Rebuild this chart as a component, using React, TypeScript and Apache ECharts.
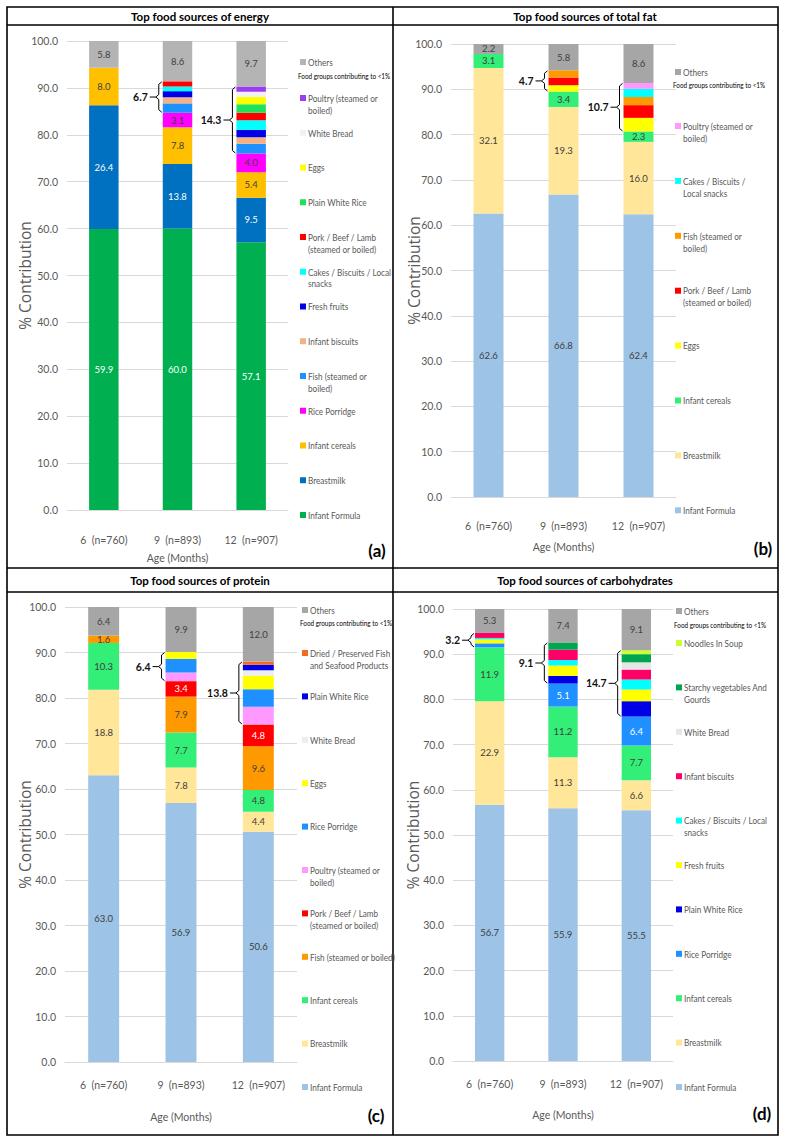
import React, { useEffect, useRef } from "react";
import * as echarts from "echarts";

const FONT = "Lato, 'Liberation Sans', sans-serif";
const YTITLE_FONT = "'Open Sans', sans-serif";

// ---------- categories ----------
const ageLabels = ["6  (n=760)", "9  (n=893)", "12  (n=907)"];

// ---------- (a) energy, % contribution (bottom to top) ----------
const energyInfantFormula = [59.9, 60.0, 57.1];
const energyBreastmilk = [26.4, 13.8, 9.5];
const energyInfantCereals = [8.0, 7.8, 5.4];
const energyRicePorridge = [0, 3.1, 4.0];
const energyFish = [0, 2.0, 2.1];
const energyInfantBiscuits = [0, 1.3, 1.4];
const energyFreshFruits = [0, 1.3, 1.6];
const energyCakes = [0, 1.0, 2.0];
const energyPork = [0, 1.1, 1.6];
const energyPlainRice = [0, 0, 1.8];
const energyEggs = [0, 0, 1.6];
const energyWhiteBread = [0, 0, 1.1];
const energyPoultry = [0, 0, 1.1];
const energyOthers = [5.8, 8.6, 9.7];

// ---------- (b) total fat ----------
const fatInfantFormula = [62.6, 66.8, 62.4];
const fatBreastmilk = [32.1, 19.3, 16.0];
const fatInfantCereals = [3.1, 3.4, 2.3];
const fatEggs = [0, 1.4, 3.0];
const fatPork = [0, 1.7, 2.8];
const fatFish = [0, 1.6, 1.8];
const fatCakes = [0, 0, 1.8];
const fatPoultry = [0, 0, 1.3];
const fatOthers = [2.2, 5.8, 8.6];

// ---------- (c) protein ----------
const proteinInfantFormula = [63.0, 56.9, 50.6];
const proteinBreastmilk = [18.8, 7.8, 4.4];
const proteinInfantCereals = [10.3, 7.7, 4.8];
const proteinFish = [1.6, 7.9, 9.6];
const proteinPork = [0, 3.4, 4.8];
const proteinPoultry = [0, 1.9, 3.9];
const proteinRicePorridge = [0, 3.0, 3.8];
const proteinEggs = [0, 1.5, 3.0];
const proteinWhiteBread = [0, 0, 1.2];
const proteinPlainRice = [0, 0, 1.2];
const proteinDriedFish = [0, 0, 0.7];
const proteinOthers = [6.4, 9.9, 12.0];

// ---------- (d) carbohydrates ----------
const carbInfantFormula = [56.7, 55.9, 55.5];
const carbBreastmilk = [22.9, 11.3, 6.6];
const carbInfantCereals = [11.9, 11.2, 7.7];
const carbRicePorridge = [0.9, 5.1, 6.4];
const carbPlainRice = [0, 1.7, 3.4];
const carbFreshFruits = [0.9, 2.3, 2.6];
const carbCakes = [0.3, 1.2, 2.2];
const carbInfantBiscuits = [1.1, 2.3, 2.2];
const carbWhiteBread = [0, 0, 1.6];
const carbStarchyVeg = [0, 1.6, 1.8];
const carbNoodles = [0, 0, 0.9];
const carbOthers = [5.3, 7.4, 9.1];

const N_IF = "Infant Formula";
const N_BM = "Breastmilk";
const N_IC = "Infant cereals";
const N_RP = "Rice Porridge";
const N_FISH = "Fish (steamed or boiled)";
const N_IB = "Infant biscuits";
const N_FF = "Fresh fruits";
const N_CAKES = "Cakes / Biscuits / Local snacks";
const N_PORK = "Pork / Beef / Lamb (steamed or boiled)";
const N_PWR = "Plain White Rice";
const N_EGGS = "Eggs";
const N_WB = "White Bread";
const N_POULTRY = "Poultry (steamed or boiled)";
const N_DRIED = "Dried / Preserved Fish and Seafood Products";
const N_STARCHY = "Starchy vegetables And Gourds";
const N_NOODLES = "Noodles In Soup";
const N_OTHERS = "Others";

type S = { name: string; data: number[]; color: string; labelColor?: string };

const energySeries: S[] = [
  { name: N_IF, data: energyInfantFormula, color: "#00B050", labelColor: "#ffffff" },
  { name: N_BM, data: energyBreastmilk, color: "#0070C0", labelColor: "#ffffff" },
  { name: N_IC, data: energyInfantCereals, color: "#FFC000" },
  { name: N_RP, data: energyRicePorridge, color: "#FF00FF" },
  { name: N_FISH, data: energyFish, color: "#1E90FF" },
  { name: N_IB, data: energyInfantBiscuits, color: "#F4B183" },
  { name: N_FF, data: energyFreshFruits, color: "#0000E6" },
  { name: N_CAKES, data: energyCakes, color: "#00FFFF" },
  { name: N_PORK, data: energyPork, color: "#FF0000" },
  { name: N_PWR, data: energyPlainRice, color: "#1EE35A" },
  { name: N_EGGS, data: energyEggs, color: "#FFFF00" },
  { name: N_WB, data: energyWhiteBread, color: "#F2F2F2" },
  { name: N_POULTRY, data: energyPoultry, color: "#9B3DF0" },
  { name: N_OTHERS, data: energyOthers, color: "#B4B4B4" },
];

const fatSeries: S[] = [
  { name: N_IF, data: fatInfantFormula, color: "#9DC3E6" },
  { name: N_BM, data: fatBreastmilk, color: "#FFE699" },
  { name: N_IC, data: fatInfantCereals, color: "#33EE77" },
  { name: N_EGGS, data: fatEggs, color: "#FFFF00" },
  { name: N_PORK, data: fatPork, color: "#FF0000" },
  { name: N_FISH, data: fatFish, color: "#FF9900" },
  { name: N_CAKES, data: fatCakes, color: "#00FFFF" },
  { name: N_POULTRY, data: fatPoultry, color: "#FF99FF" },
  { name: N_OTHERS, data: fatOthers, color: "#A6A6A6" },
];

const proteinSeries: S[] = [
  { name: N_IF, data: proteinInfantFormula, color: "#9DC3E6" },
  { name: N_BM, data: proteinBreastmilk, color: "#FFE699" },
  { name: N_IC, data: proteinInfantCereals, color: "#33EE77" },
  { name: N_FISH, data: proteinFish, color: "#FF9900" },
  { name: N_PORK, data: proteinPork, color: "#FF0000", labelColor: "#ffffff" },
  { name: N_POULTRY, data: proteinPoultry, color: "#FF99FF" },
  { name: N_RP, data: proteinRicePorridge, color: "#1E90FF" },
  { name: N_EGGS, data: proteinEggs, color: "#FFFF00" },
  { name: N_WB, data: proteinWhiteBread, color: "#EDEDED" },
  { name: N_PWR, data: proteinPlainRice, color: "#0000E6" },
  { name: N_DRIED, data: proteinDriedFish, color: "#F26B21" },
  { name: N_OTHERS, data: proteinOthers, color: "#A6A6A6" },
];

const carbSeries: S[] = [
  { name: N_IF, data: carbInfantFormula, color: "#9DC3E6" },
  { name: N_BM, data: carbBreastmilk, color: "#FFE699" },
  { name: N_IC, data: carbInfantCereals, color: "#33EE77" },
  { name: N_RP, data: carbRicePorridge, color: "#1E90FF", labelColor: "#ffffff" },
  { name: N_PWR, data: carbPlainRice, color: "#0000E6" },
  { name: N_FF, data: carbFreshFruits, color: "#FFFF00" },
  { name: N_CAKES, data: carbCakes, color: "#00FFFF" },
  { name: N_IB, data: carbInfantBiscuits, color: "#FF0066" },
  { name: N_WB, data: carbWhiteBread, color: "#E6E6E6" },
  { name: N_STARCHY, data: carbStarchyVeg, color: "#00A550" },
  { name: N_NOODLES, data: carbNoodles, color: "#CCFF33" },
  { name: N_OTHERS, data: carbOthers, color: "#A6A6A6" },
];

// groups summed under a bracket (<1% contributors)
const energyBrackets = [
  { cat: 1, from: N_FISH, to: N_PORK },
  { cat: 2, from: N_FISH, to: N_POULTRY },
];
const fatBrackets = [
  { cat: 1, from: N_EGGS, to: N_FISH },
  { cat: 2, from: N_EGGS, to: N_POULTRY },
];
const proteinBrackets = [
  { cat: 1, from: N_POULTRY, to: N_EGGS },
  { cat: 2, from: N_POULTRY, to: N_DRIED },
];
const carbBrackets = [
  { cat: 0, from: N_RP, to: N_IB },
  { cat: 1, from: N_PWR, to: N_STARCHY },
  { cat: 2, from: N_PWR, to: N_NOODLES },
];

// legend line breaks
const energyWrap: Record<string, string> = {
  [N_POULTRY]: "Poultry (steamed or\nboiled)",
  [N_PORK]: "Pork / Beef / Lamb\n(steamed or boiled)",
  [N_CAKES]: "Cakes / Biscuits / Local\nsnacks",
  [N_FISH]: "Fish (steamed or\nboiled)",
};
const fatWrap: Record<string, string> = {
  [N_POULTRY]: "Poultry (steamed or\nboiled)",
  [N_CAKES]: "Cakes / Biscuits /\nLocal snacks",
  [N_FISH]: "Fish (steamed or\nboiled)",
  [N_PORK]: "Pork / Beef / Lamb\n(steamed or boiled)",
};
const proteinWrap: Record<string, string> = {
  [N_DRIED]: "Dried / Preserved Fish\nand Seafood Products",
  [N_POULTRY]: "Poultry (steamed or\nboiled)",
  [N_PORK]: "Pork / Beef / Lamb\n(steamed or boiled)",
};
const carbWrap: Record<string, string> = {
  [N_STARCHY]: "Starchy vegetables And\nGourds",
  [N_CAKES]: "Cakes / Biscuits / Local\nsnacks",
};

// ---------- layout (pixels) ----------
const panels = [
  {
    title: "Top food sources of energy", letter: "(a)", series: energySeries, brackets: energyBrackets, wrap: energyWrap,
    grid: { left: 67, top: 41, width: 221, height: 469 }, labelMargin: 24, nameGap: 42,
    titleX: 200, titleY: 16.5, yTitleX: 25, letterX: 377, letterY: 550,
    legendX: 300, othersY: 62, noteY: 76, firstY: 98, stepY: 34.75,
  },
  {
    title: "Top food sources of total fat", letter: "(b)", series: fatSeries, brackets: fatBrackets, wrap: fatWrap,
    grid: { left: 451, top: 44, width: 225, height: 453 }, labelMargin: 23, nameGap: 44,
    titleX: 585, titleY: 16.5, yTitleX: 414, letterX: 763, letterY: 548,
    legendX: 675, othersY: 72, noteY: 85, firstY: 126, stepY: 54.9,
  },
  {
    title: "Top food sources of protein", letter: "(c)", series: proteinSeries, brackets: proteinBrackets, wrap: proteinWrap,
    grid: { left: 65, top: 607, width: 232, height: 455 }, labelMargin: 17, nameGap: 49,
    titleX: 200, titleY: 580, yTitleX: 25, letterX: 376, letterY: 1115,
    legendX: 302, othersY: 610, noteY: 623, firstY: 653, stepY: 43.4,
  },
  {
    title: "Top food sources of carbohydrates", letter: "(d)", series: carbSeries, brackets: carbBrackets, wrap: carbWrap,
    grid: { left: 453, top: 609, width: 220, height: 452 }, labelMargin: 17, nameGap: 48,
    titleX: 585, titleY: 580, yTitleX: 413, letterX: 762, letterY: 1113,
    legendX: 676, othersY: 611, noteY: 625, firstY: 643, stepY: 44.4,
  },
];

function buildOption() {
  const grids: any[] = [];
  const xAxes: any[] = [];
  const yAxes: any[] = [];
  const series: any[] = [];
  const elements: any[] = [];

  // frame
  elements.push({ type: "rect", silent: true, shape: { x: 7, y: 7, width: 771, height: 1128 }, style: { fill: "none", stroke: "#000", lineWidth: 1.6 } });
  elements.push({ type: "line", silent: true, shape: { x1: 393, y1: 7, x2: 393, y2: 1135 }, style: { stroke: "#000", lineWidth: 1.6 } });
  [25, 568, 592].forEach((y) =>
    elements.push({ type: "line", silent: true, shape: { x1: 7, y1: y, x2: 778, y2: y }, style: { stroke: "#000", lineWidth: 1.6 } })
  );

  panels.forEach((p, i) => {
    grids.push({ ...p.grid });
    xAxes.push({
      type: "category", gridIndex: i, data: ageLabels,
      axisLine: { lineStyle: { color: "#D9D9D9" } }, axisTick: { show: false },
      axisLabel: { color: "#595959", fontSize: 10.5, fontFamily: FONT, margin: p.labelMargin, interval: 0 },
      name: "Age (Months)", nameLocation: "middle", nameGap: p.nameGap,
      nameTextStyle: { color: "#595959", fontSize: 10.5, fontFamily: FONT },
    });
    yAxes.push({
      type: "value", gridIndex: i, min: 0, max: 100, interval: 10,
      axisLine: { show: false }, axisTick: { show: false },
      splitLine: { lineStyle: { color: "#D9D9D9", width: 1 } },
      axisLabel: { color: "#595959", fontSize: 10.5, fontFamily: FONT, margin: 9, formatter: (v: number) => v.toFixed(1) },
    });

    const idx = (n: string) => p.series.findIndex((s) => s.name === n);
    const hidden: Record<string, boolean> = {};
    const bracketData = p.brackets.map((b) => {
      const f = idx(b.from);
      const t = idx(b.to);
      let lo = 0;
      for (let k = 0; k < f; k++) lo += p.series[k].data[b.cat];
      let span = 0;
      for (let k = f; k <= t; k++) {
        span += p.series[k].data[b.cat];
        hidden[k + "_" + b.cat] = true;
      }
      return [b.cat, lo, lo + span];
    });

    p.series.forEach((s, k) => {
      series.push({
        type: "bar", name: s.name, xAxisIndex: i, yAxisIndex: i, stack: "stack" + i, barWidth: "40%",
        itemStyle: { color: s.color }, emphasis: { disabled: true }, silent: true,
        label: {
          show: true, position: "inside", color: s.labelColor || "#404040", fontSize: 9.5, fontFamily: FONT,
          formatter: (q: any) => Number(q.value).toFixed(1),
        },
        data: s.data.map((v, c) => ({ value: v, label: { show: v > 0 && !hidden[k + "_" + c] } })),
      });
    });

    series.push({
      type: "custom", xAxisIndex: i, yAxisIndex: i, z: 10, silent: true, clip: false,
      data: bracketData, encode: { x: 0, y: [1, 2] },
      renderItem: (params: any, api: any) => {
        const cat = api.value(0);
        const lo = api.value(1);
        const hi = api.value(2);
        const top = api.coord([cat, hi]);
        const bot = api.coord([cat, lo]);
        const band = api.size([1, 0])[0];
        const bx = top[0] - band * 0.2 - 4;
        const yT = top[1] + 0.5;
        const yB = bot[1] - 0.5;
        const yM = (yT + yB) / 2;
        return {
          type: "group",
          children: [
            {
              type: "polyline",
              shape: { points: [[bx + 3, yT], [bx, yT + 2.5], [bx, yM - 2.5], [bx - 3, yM], [bx, yM + 2.5], [bx, yB - 2.5], [bx + 3, yB]] },
              style: { stroke: "#000", lineWidth: 1, fill: "none" },
            },
            { type: "line", shape: { x1: bx - 9, y1: yM, x2: bx - 3, y2: yM }, style: { stroke: "#000", lineWidth: 1 } },
            {
              type: "text",
              style: {
                text: (hi - lo).toFixed(1), x: bx - 11, y: yM, align: "right", verticalAlign: "middle",
                fontSize: 10.5, fontWeight: "bold", fontFamily: FONT, fill: "#111",
              },
            },
          ],
        };
      },
    });

    // title
    elements.push({
      type: "text", silent: true, x: p.titleX, y: p.titleY,
      style: { text: p.title, font: `bold 11.5px ${FONT}`, fill: "#000", align: "center", verticalAlign: "middle" },
    });
    // y title
    elements.push({
      type: "text", silent: true, x: p.yTitleX, y: p.grid.top + p.grid.height / 2, rotation: Math.PI / 2,
      style: { text: "% Contribution", font: `15.5px ${YTITLE_FONT}`, fill: "#595959", align: "center", verticalAlign: "middle" },
    });
    // panel letter
    elements.push({
      type: "text", silent: true, x: p.letterX, y: p.letterY,
      style: { text: p.letter, font: `bold 17px ${FONT}`, fill: "#000", align: "center", verticalAlign: "middle" },
    });

    // legend
    const entries = p.series.slice().reverse();
    const addEntry = (s: S, y: number) => {
      elements.push({ type: "rect", silent: true, shape: { x: p.legendX, y: y - 3, width: 6, height: 6 }, style: { fill: s.color } });
      elements.push({
        type: "text", silent: true, x: p.legendX + 8, y: y - 6, scaleX: 0.86,
        style: { text: p.wrap[s.name] || s.name, font: `9.5px ${FONT}`, lineHeight: 12, fill: "#595959", align: "left", verticalAlign: "top" },
      });
    };
    addEntry(entries[0], p.othersY);
    elements.push({
      type: "text", silent: true, x: p.legendX - 2, y: p.noteY, scaleX: 0.85,
      style: { text: "Food groups contributing to <1%", font: `7.5px ${FONT}`, fill: "#000", align: "left", verticalAlign: "middle" },
    });
    entries.slice(1).forEach((s, j) => addEntry(s, p.firstY + j * p.stepY));
  });

  return {
    animation: false,
    backgroundColor: "#ffffff",
    textStyle: { fontFamily: FONT },
    grid: grids,
    xAxis: xAxes,
    yAxis: yAxes,
    series,
    graphic: { elements },
  };
}

export default function App() {
  const ref = useRef<HTMLDivElement>(null);
  useEffect(() => {
    if (!ref.current) return;
    const chart = echarts.init(ref.current, null, { renderer: "svg" });
    chart.setOption(buildOption() as any);
    return () => chart.dispose();
  }, []);
  return (
    <div
      ref={ref}
      style={{ position: "absolute", left: 0, top: 0, width: 786, height: 1140, background: "#ffffff" }}
    />
  );
}
